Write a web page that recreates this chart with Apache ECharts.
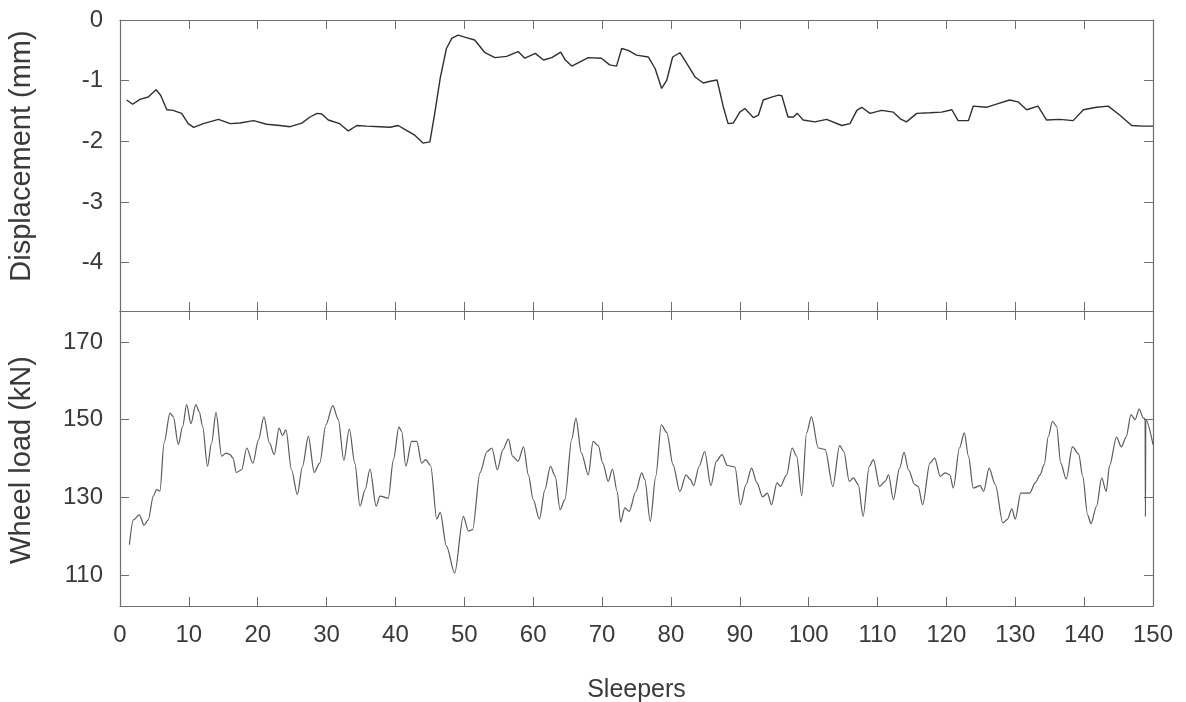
<!DOCTYPE html>
<html>
<head>
<meta charset="utf-8">
<script src="https://cdn.jsdelivr.net/npm/echarts@6/dist/echarts.min.js"></script>
<style>
  html, body { margin: 0; padding: 0; background: #fff; }
  #chart { width: 1186px; height: 702px; }
</style>
</head>
<body>
<div id="chart"></div>
<script>
// Sleeper positions and measured rail displacement (mm)
const dispX = [0.97, 1.84, 2.9, 4.1, 5.23, 5.9, 6.8, 7.7, 8.95, 9.9, 10.7, 12.1, 14.3, 16.0, 17.4, 19.4, 21.3, 23.2, 24.7, 26.4, 27.6, 28.6, 29.3, 30.25, 31.9, 33.15, 34.4, 35.8, 37.75, 39.2, 40.4, 41.6, 42.8, 44.0, 45.0, 45.7, 46.5, 47.4, 48.2, 49.1, 50.3, 51.5, 53.0, 54.45, 56.15, 57.8, 58.8, 60.3, 61.5, 62.7, 64.0, 64.6, 65.6, 66.8, 68.0, 69.9, 71.1, 72.1, 72.85, 73.8, 75.0, 76.7, 77.7, 78.65, 79.4, 80.25, 81.3, 82.0, 83.5, 84.7, 85.7, 86.7, 87.6, 88.3, 89.05, 90.0, 90.75, 91.96, 92.7, 93.4, 94.4, 95.6, 96.1, 97.0, 97.8, 98.35, 99.2, 100.9, 102.6, 104.8, 106.0, 107.0, 107.7, 108.9, 110.6, 112.3, 113.3, 114.2, 115.7, 117.6, 119.3, 120.8, 121.7, 123.2, 123.9, 125.8, 127.5, 129.2, 130.4, 131.65, 133.3, 134.55, 136.5, 138.4, 139.9, 141.8, 143.5, 145.2, 146.9, 148.6, 150.0];
const dispY = [-1.32, -1.39, -1.31, -1.27, -1.15, -1.24, -1.48, -1.49, -1.54, -1.71, -1.77, -1.71, -1.64, -1.71, -1.70, -1.66, -1.72, -1.74, -1.76, -1.70, -1.60, -1.54, -1.55, -1.65, -1.71, -1.83, -1.74, -1.75, -1.76, -1.77, -1.74, -1.82, -1.90, -2.03, -2.01, -1.54, -0.96, -0.47, -0.30, -0.25, -0.29, -0.33, -0.54, -0.62, -0.60, -0.52, -0.63, -0.55, -0.66, -0.62, -0.53, -0.65, -0.76, -0.69, -0.62, -0.63, -0.74, -0.76, -0.47, -0.50, -0.58, -0.61, -0.80, -1.13, -0.99, -0.61, -0.54, -0.66, -0.94, -1.04, -1.01, -0.99, -1.43, -1.71, -1.70, -1.52, -1.46, -1.61, -1.57, -1.32, -1.28, -1.24, -1.25, -1.60, -1.60, -1.54, -1.65, -1.68, -1.64, -1.74, -1.71, -1.49, -1.44, -1.54, -1.49, -1.52, -1.63, -1.68, -1.54, -1.53, -1.52, -1.48, -1.66, -1.66, -1.42, -1.44, -1.38, -1.32, -1.35, -1.48, -1.42, -1.65, -1.64, -1.66, -1.48, -1.44, -1.42, -1.57, -1.74, -1.75, -1.75];

// Sleeper positions and measured wheel load (kN)
const loadX = [1.36, 1.94, 2.8, 3.5, 4.1, 4.84, 5.3, 5.8, 6.4, 7.26, 7.74, 8.47, 9.1, 9.68, 10.3, 11.0, 11.5, 12.0, 12.7, 13.3, 13.94, 14.76, 15.4, 16.0, 16.4, 16.9, 17.67, 18.4, 19.3, 20.1, 20.9, 21.7, 22.4, 23.1, 23.6, 24.1, 24.9, 25.75, 26.5, 27.35, 28.2, 29.0, 29.9, 30.9, 31.7, 32.5, 33.3, 34.1, 34.85, 35.6, 36.3, 37.2, 37.75, 38.96, 39.7, 40.5, 40.9, 41.5, 42.35, 43.1, 43.8, 44.4, 45.1, 46.0, 46.5, 47.4, 48.6, 49.85, 50.6, 51.2, 52.27, 53.3, 54.0, 54.8, 55.6, 56.4, 57.0, 57.8, 58.6, 59.3, 60.0, 60.9, 61.7, 62.5, 63.2, 63.9, 64.6, 65.6, 66.2, 67.0, 68.0, 68.7, 69.45, 70.1, 70.9, 71.5, 72.2, 72.7, 73.3, 73.95, 74.9, 75.75, 76.2, 77.0, 77.8, 78.6, 79.4, 80.3, 81.3, 82.2, 82.8, 83.3, 84.1, 84.9, 85.8, 86.6, 87.4, 88.2, 89.3, 90.1, 90.9, 91.7, 92.5, 93.3, 94.0, 94.6, 95.4, 95.9, 96.8, 97.6, 98.25, 99.0, 99.7, 100.4, 101.4, 102.4, 103.5, 104.5, 105.1, 105.9, 106.5, 107.2, 107.9, 108.8, 109.4, 110.3, 111.1, 111.6, 112.3, 113.2, 113.85, 114.5, 115.4, 115.9, 116.55, 117.6, 118.3, 119.1, 119.8, 120.5, 121.0, 121.9, 122.6, 123.2, 123.9, 124.9, 125.4, 126.2, 127.1, 128.2, 128.85, 129.5, 130.0, 130.8, 131.65, 132.1, 132.9, 133.6, 134.2, 134.8, 135.4, 136.0, 136.6, 137.4, 138.3, 139.2, 139.8, 140.5, 141.0, 141.8, 142.55, 143.2, 143.7, 144.7, 145.4, 146.1, 146.8, 147.4, 148.0, 148.6, 148.85, 148.9, 148.95, 150.0];
const loadY = [117.8, 124.2, 125.5, 122.8, 124.2, 130.3, 132.0, 131.6, 144.0, 151.7, 150.8, 143.6, 148.3, 153.9, 149.0, 153.9, 152.1, 148.3, 138.0, 144.0, 151.9, 140.6, 141.4, 141.0, 140.1, 136.4, 137.1, 142.7, 138.8, 144.8, 150.7, 144.0, 141.0, 147.8, 145.9, 147.4, 137.1, 130.7, 138.0, 145.7, 136.4, 138.8, 148.7, 153.6, 150.0, 139.5, 147.6, 138.8, 127.7, 132.0, 137.3, 127.7, 130.3, 129.8, 139.7, 148.1, 147.0, 138.0, 144.4, 144.4, 138.8, 139.7, 138.2, 124.4, 126.1, 117.4, 110.5, 125.1, 121.3, 121.7, 136.3, 141.8, 142.7, 137.1, 142.3, 145.0, 140.6, 139.3, 143.0, 135.8, 129.4, 124.4, 132.0, 138.0, 135.4, 126.8, 129.4, 145.0, 150.4, 141.4, 135.8, 144.4, 143.3, 138.8, 134.1, 137.3, 131.5, 123.6, 127.3, 126.4, 131.5, 136.3, 134.6, 123.8, 135.4, 148.7, 146.7, 138.4, 131.5, 135.8, 134.6, 133.0, 138.0, 141.8, 133.0, 139.3, 141.0, 138.2, 137.8, 128.1, 133.3, 137.5, 133.7, 130.1, 131.1, 128.1, 133.7, 132.8, 135.8, 142.7, 140.6, 130.4, 146.6, 150.7, 142.7, 142.3, 132.8, 143.3, 141.8, 134.1, 135.0, 133.3, 125.1, 138.0, 139.7, 132.8, 134.1, 135.8, 129.4, 137.5, 141.6, 137.1, 133.3, 132.8, 128.1, 138.8, 140.1, 135.4, 136.3, 135.8, 132.4, 142.7, 146.6, 140.6, 132.4, 133.0, 131.5, 137.5, 133.3, 123.4, 124.3, 127.0, 124.4, 131.1, 131.1, 131.1, 133.7, 135.8, 138.4, 145.7, 149.6, 148.3, 138.8, 134.7, 143.0, 141.2, 135.4, 125.5, 123.2, 127.7, 135.0, 131.5, 138.2, 145.5, 143.0, 145.5, 151.3, 150.0, 152.7, 150.4, 150.3, 125.0, 150.0, 143.6];

// Axis ticks
const xTicks = [0, 10, 20, 30, 40, 50, 60, 70, 80, 90, 100, 110, 120, 130, 140, 150];
const dispTicks = [0, -1, -2, -3, -4];
const loadTicks = [110, 130, 150, 170];

const FONT = 'Liberation Sans, Arial, sans-serif';
const AXIS_COLOR = '#6e6e6e';
const TEXT_COLOR = '#3a3a3a';

const pairs = (xs, ys) => xs.map((x, i) => [x, ys[i]]);

const lineStyle = { color: AXIS_COLOR, width: 1.2 };
const tickStyle = { color: AXIS_COLOR, width: 1 };

function xAxisDef(gridIndex, position, showLabels, name) {
  return {
    type: 'value', gridIndex, position, min: 0, max: 150, interval: 10,
    axisLine: { show: true, onZero: false, lineStyle },
    axisTick: { show: true, inside: true, length: 9, lineStyle: tickStyle, customValues: xTicks },
    axisLabel: { show: showLabels, margin: 17, fontSize: 24, color: TEXT_COLOR, fontFamily: FONT, customValues: xTicks },
    splitLine: { show: false },
    name: name || '', nameLocation: 'middle', nameGap: 72,
    nameTextStyle: { fontSize: 25, color: TEXT_COLOR, fontFamily: FONT }
  };
}

function yAxisDef(gridIndex, position, min, max, ticks, showLabels) {
  return {
    type: 'value', gridIndex, position, min, max,
    axisLine: { show: true, onZero: false, lineStyle },
    axisTick: { show: true, inside: true, length: 9, lineStyle: tickStyle, customValues: ticks },
    axisLabel: { show: showLabels, margin: 17, fontSize: 24, color: TEXT_COLOR, fontFamily: FONT, customValues: ticks },
    splitLine: { show: false }
  };
}

const chart = echarts.init(document.getElementById('chart'), null, { renderer: 'canvas' });

chart.setOption({
  backgroundColor: '#ffffff',
  animation: false,
  grid: [
    { left: 120, right: 33, top: 20, height: 291, outerBoundsMode: 'none', containLabel: false },
    { left: 120, right: 33, top: 311, height: 295, outerBoundsMode: 'none', containLabel: false }
  ],
  xAxis: [
    xAxisDef(0, 'bottom', false),
    xAxisDef(0, 'top', false),
    xAxisDef(1, 'bottom', true, 'Sleepers'),
    xAxisDef(1, 'top', false)
  ],
  yAxis: [
    yAxisDef(0, 'left', -4.8, 0, dispTicks, true),
    yAxisDef(0, 'right', -4.8, 0, dispTicks, false),
    yAxisDef(1, 'left', 102, 178, loadTicks, true),
    yAxisDef(1, 'right', 102, 178, loadTicks, false)
  ],
  graphic: [
    {
      type: 'text', x: 22, y: 156, rotation: Math.PI / 2,
      style: { text: 'Displacement (mm)', fontSize: 29, fontFamily: FONT, fill: TEXT_COLOR, align: 'center', verticalAlign: 'middle' }
    },
    {
      type: 'text', x: 22, y: 460, rotation: Math.PI / 2,
      style: { text: 'Wheel load (kN)', fontSize: 29, fontFamily: FONT, fill: TEXT_COLOR, align: 'center', verticalAlign: 'middle' }
    }
  ],
  series: [
    {
      type: 'line', xAxisIndex: 0, yAxisIndex: 0,
      data: pairs(dispX, dispY),
      showSymbol: false,
      lineStyle: { color: '#2f2f2f', width: 1.4 }
    },
    {
      type: 'line', xAxisIndex: 2, yAxisIndex: 2,
      data: pairs(loadX, loadY),
      showSymbol: false,
      smooth: 0.3, smoothMonotone: 'x',
      lineStyle: { color: '#5a5a5a', width: 1.2 }
    }
  ]
});
</script>
</body>
</html>
